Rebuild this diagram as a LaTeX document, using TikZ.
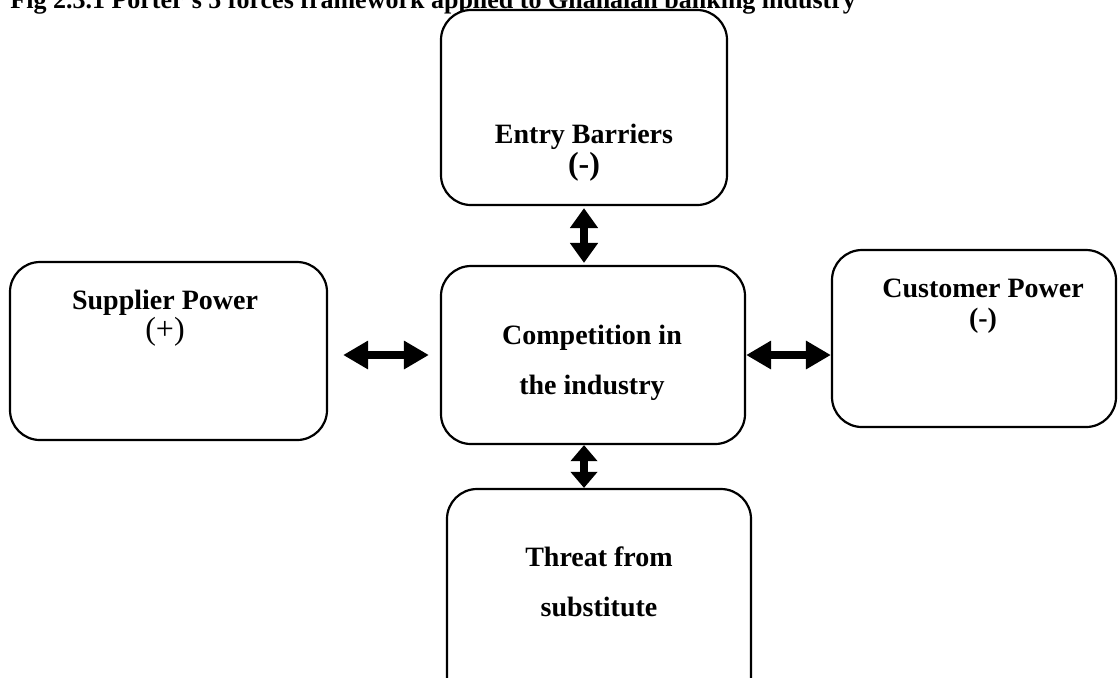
\documentclass[tikz,border=0pt]{standalone}
\usepackage{fontspec}
\setmainfont{Liberation Serif}
\usetikzlibrary{positioning,arrows.meta}

\begin{document}
\begin{tikzpicture}[x=0.5pt,y=-0.5pt]
\tikzstyle{every node}+=[inner sep=0pt]
\tikzstyle{box}=[draw, line width=1.1pt, rounded corners=15pt]
\tikzstyle{lbl}=[anchor=base, font=\bfseries\fontsize{14}{16}\selectfont]
\tikzstyle{sign}=[anchor=base, font=\fontsize{16}{18}\selectfont]
\tikzstyle{dblarrow}=[line width=4pt, {Triangle[length=12.5pt,width=13.5pt]}-{Triangle[length=12.5pt,width=13.5pt]}]
\tikzstyle{vdblarrow}=[line width=4pt, {Triangle[length=10pt,width=13.5pt]}-{Triangle[length=10pt,width=13.5pt]}]
\useasboundingbox (0,0) rectangle (1118,677);
% title, cut at the top
\node[lbl, anchor=base west, font=\bfseries\fontsize{13}{15}\selectfont] (title) at (10,8) {Fig 2.3.1 Porter's 5 forces framework applied to Ghanaian banking industry};
% the five boxes
\node[box, fill=white, minimum width=143pt, minimum height=97.5pt] (entry) at (584,107.5) {};
\node[box, minimum width=152pt, minimum height=89pt] (comp) at (593,355) {};
\node[box, minimum width=158.5pt, minimum height=89pt] (supp) at (168.5,351) {};
\node[box, minimum width=142pt, minimum height=88.5pt] (cust) at (974,338.5) {};
\node[box, minimum width=152pt, minimum height=116pt] (threat) at (599,605) {};
% texts
\node[lbl] (entryA) at (584,143) {Entry Barriers};
\node[lbl, font=\bfseries\fontsize{16}{18}\selectfont] (entryB) at (584,174) {(-)};
\node[lbl] (compA) at (592,344) {Competition in};
\node[lbl] (compB) at (592,394) {the industry};
\node[lbl] (suppA) at (165,309) {Supplier Power};
\node[sign] (suppB) at (165,339) {(+)};
\node[lbl] (custA) at (983,297) {Customer Power};
\node[lbl] (custB) at (983,327) {(-)};
\node[lbl] (threatA) at (599,566) {Threat from};
\node[lbl] (threatB) at (599,616) {substitute};
% arrows
\draw[vdblarrow, shorten <=1pt, shorten >=1pt] (entry.south) -- (entry.south |- comp.north);
\draw[vdblarrow, {Triangle[length=8pt,width=13pt]}-{Triangle[length=8pt,width=13pt]}] (entry.south |- comp.south) -- (entry.south |- threat.north);
\draw[dblarrow, shorten <=7.5pt, shorten >=5.5pt] (supp.east |- comp.center) -- (comp.west);
\draw[dblarrow] (comp.east) -- (cust.west |- comp.center);
\end{tikzpicture}
\end{document}
